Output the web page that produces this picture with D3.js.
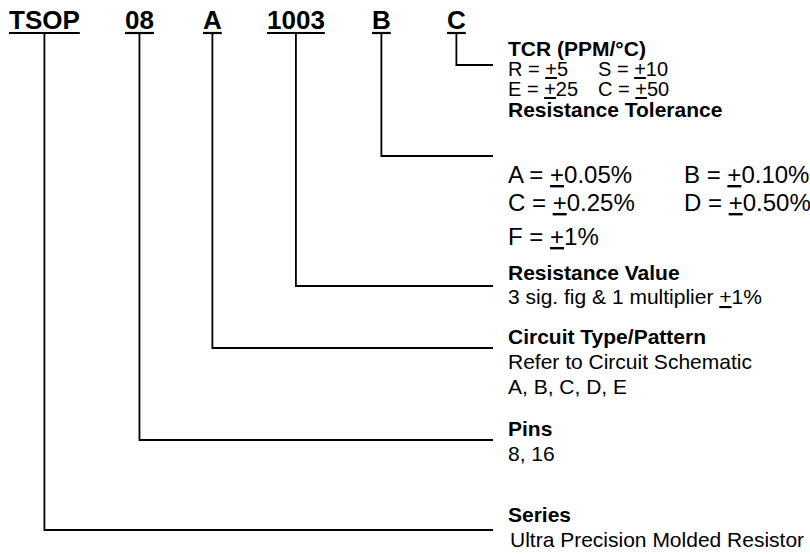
<!DOCTYPE html>
<html>
<head>
<meta charset="utf-8">
<script src="https://cdn.jsdelivr.net/npm/d3@7"></script>
<style>
  body { margin: 0; background: #fff; }
  text { font-family: "Liberation Sans", Arial, sans-serif; fill: #000; }
</style>
</head>
<body>
<div id="chart"></div>
<script>
// part number fields, left to right
var codes = ["TSOP", "08", "A", "1003", "B", "C"];

// what each field means (same order as codes)
var titles = ["Series", "Pins", "Circuit Type/Pattern", "Resistance Value", "Resistance Tolerance", "TCR (PPM/°C)"];

// description lines, each line is one or two columns; "+" is drawn underlined (±)
var details = [
  [["Ultra Precision Molded Resistor"]],
  [["8, 16"]],
  [["Refer to Circuit Schematic"], ["A, B, C, D, E"]],
  [["3 sig. fig & 1 multiplier +1%"]],
  [["A = +0.05%", "B = +0.10%"], ["C = +0.25%", "D = +0.50%"], ["F = +1%"]],
  [["R = +5", "S = +10"], ["E = +25", "C = +50"]]
];

// ---- layout (pixels) ----
var width = 810, height = 554;
var codeLeft = [9, 125, 203, 267, 372, 447];   // left edge of each code
var codeBase = 29, underlineY = 33;
var leaderY = [530, 440, 348, 286, 156, 65];  // horizontal leader for each field
var leaderEnd = 493;
var textX = 508;
var titleBase = [522, 436, 344, 280, 117, 56];
var lineBase = [[547], [461], [369, 394], [304], [183, 211, 245], [76, 96]];
var lineSize = [21, 21, 21, 21, 24, 20];
var col2X = [0, 0, 0, 0, 684, 598];
var lineIndent = [2, 0, 0, 0, 0, 0];

var svg = d3.select("#chart")
  .append("svg")
  .attr("width", width)
  .attr("height", height);

// code labels on top
var codeText = svg.selectAll(".code")
  .data(codes)
  .enter().append("text")
  .attr("class", "code")
  .attr("x", function(d, i) { return codeLeft[i]; })
  .attr("y", codeBase)
  .style("font-size", "26px")
  .style("font-weight", "bold")
  .text(function(d) { return d; });

// measure so underline and leader sit at the centre of each code
var codeBox = [];
codeText.each(function(d, i) {
  var w = this.getComputedTextLength();
  codeBox.push({ x0: codeLeft[i], x1: codeLeft[i] + w, cx: codeLeft[i] + w / 2 });
});

svg.selectAll(".uline")
  .data(codeBox)
  .enter().append("line")
  .attr("x1", function(d) { return d.x0; })
  .attr("x2", function(d) { return d.x1; })
  .attr("y1", underlineY)
  .attr("y2", underlineY)
  .style("stroke", "#000")
  .style("stroke-width", 2.2);

// leaders: down from the code, then right to the description
var line = d3.line();
svg.selectAll(".leader")
  .data(codeBox)
  .enter().append("path")
  .attr("d", function(d, i) {
    return line([[d.cx, underlineY], [d.cx, leaderY[i]], [leaderEnd, leaderY[i]]]);
  })
  .style("fill", "none")
  .style("stroke", "#000")
  .style("stroke-width", 1.8);

// titles
svg.selectAll(".title")
  .data(titles)
  .enter().append("text")
  .attr("class", "title")
  .attr("x", textX)
  .attr("y", function(d, i) { return titleBase[i]; })
  .style("font-size", "21px")
  .style("font-weight", "bold")
  .text(function(d) { return d; });

// writes a string into a text node, underlining every "+"
function fillText(sel, str) {
  var parts = str.split(/(\+)/);
  parts.forEach(function(p) {
    if (p === "") return;
    var t = sel.append("tspan").text(p);
    if (p === "+") t.style("text-decoration", "underline");
  });
}

details.forEach(function(rows, i) {
  rows.forEach(function(cols, r) {
    cols.forEach(function(str, c) {
      var t = svg.append("text")
        .attr("x", c === 0 ? textX + lineIndent[i] : col2X[i])
        .attr("y", lineBase[i][r])
        .style("font-size", lineSize[i] + "px");
      fillText(t, str);
    });
  });
});
</script>
</body>
</html>
